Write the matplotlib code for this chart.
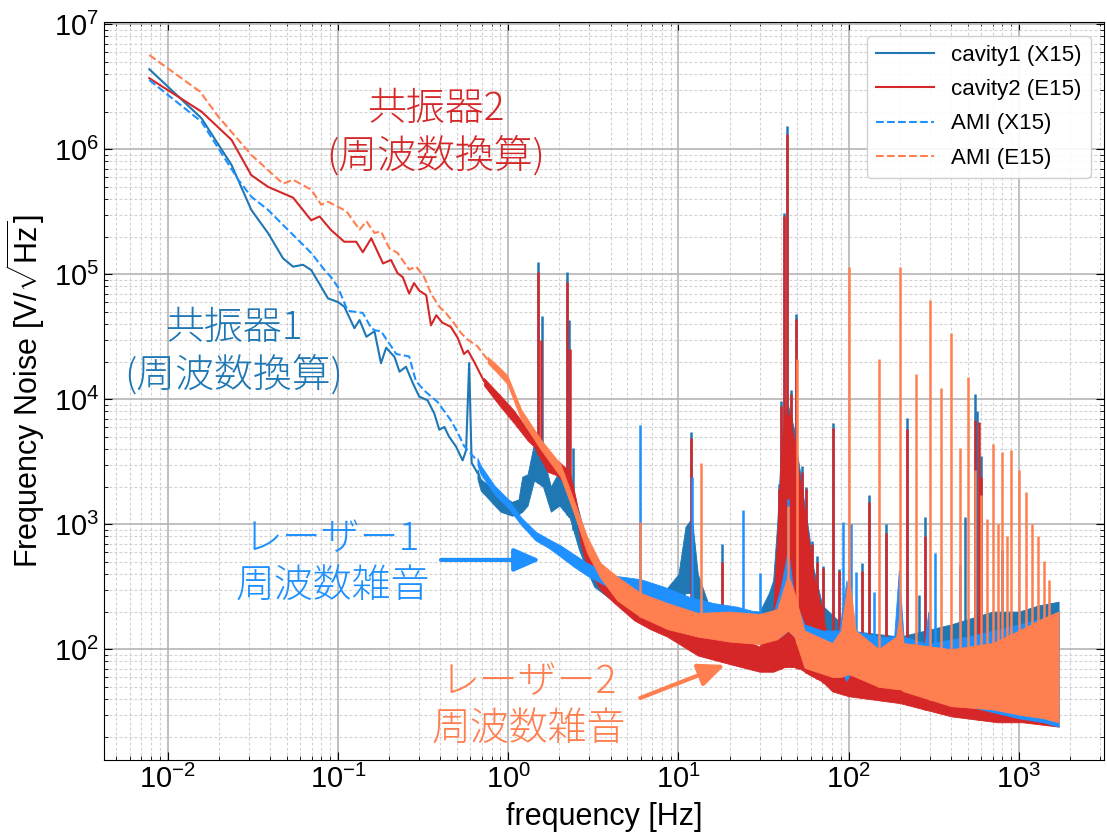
import numpy as np
import matplotlib.pyplot as plt

plt.rcParams['font.family'] = ['Liberation Sans', 'DejaVu Sans']
plt.rcParams['mathtext.fontset'] = 'custom'
plt.rcParams['mathtext.rm'] = 'Liberation Sans'
plt.rcParams['mathtext.it'] = 'Liberation Sans:italic'
plt.rcParams['mathtext.bf'] = 'Liberation Sans:bold'
JP = ['Noto Sans CJK JP', 'DejaVu Sans']

# --- cavity1 (X15) ---
c1_f_line = [0.0078, 0.0158, 0.0237, 0.031, 0.0389, 0.0476, 0.0545, 0.0624, 0.0697, 0.0875,
             0.1, 0.109, 0.125, 0.134, 0.147, 0.164, 0.179, 0.192, 0.215, 0.23, 0.251, 0.275,
             0.30, 0.336, 0.368, 0.394, 0.422, 0.45, 0.493, 0.54, 0.566, 0.59, 0.61, 0.66]
c1_v_line = [4.37e6, 1.77e6, 7.5e5, 3.27e5, 2.13e5, 1.34e5, 1.15e5, 1.19e5, 1.08e5, 6.4e4,
             6.0e4, 5.5e4, 3.7e4, 4.3e4, 3.16e4, 3.5e4, 1.94e4, 2.58e4, 2.18e4, 1.66e4, 1.82e4, 1.35e4,
             1.05e4, 9.8e3, 7.7e3, 5.7e3, 6.0e3, 5.0e3, 4.2e3, 3.24e3, 3.9e3, 1.95e4, 3.1e3, 2.57e3]
c1_f_band = [0.66, 0.69, 0.9, 1.05, 1.15, 1.21, 1.3, 1.42, 1.6, 1.78, 2.0, 2.3, 2.6, 2.9, 3.2, 4.0,
             6.0, 8.0, 10, 11, 12, 13, 15, 20, 30, 34, 36, 38, 40, 42, 44, 46, 48, 50, 52, 55, 58,
             62, 70, 100, 200, 400, 700, 1000, 1300, 1710]
c1_lo = [2290, 1860, 1260, 1170, 1200, 1260, 1410, 2240, 2000, 1260, 1410, 1120, 631, 427, 316, 251,
         200, 182, 200, 282, 282, 200, 158, 141, 126, 112, 112, 112, 112, 112, 112, 112, 112, 112,
         100, 100, 100, 89, 79, 71, 56, 45, 40, 35, 32, 28]
c1_hi = [2750, 2290, 1740, 1510, 1580, 2400, 2510, 4470, 3550, 2000, 2690, 2240, 1260, 708, 447, 355,
         302, 275, 398, 955, 1120, 398, 229, 209, 200, 282, 355, 1000, 3980, 7940, 8910, 7080, 5620,
         3550, 2510, 1410, 891, 447, 224, 141, 126, 158, 200, 200, 224, 240]
c1_f_peak = [1.505, 1.57, 2.22, 2.27, 2.41, 11.3, 11.8, 18.1, 38.8, 39.8, 41.7, 43.6, 46.0, 49.2,
             51.0, 53.0, 56.5, 61.0, 65.0, 71.0, 80.6, 88.0, 120, 132, 166, 220, 260, 280, 485,
             555, 570, 600, 800]
c1_v_peak = [1.26e5, 4.6e4, 1.05e5, 4.3e4, 4.1e3, 9.0e2, 5.5e3, 7.0e2, 2.1e3, 9.6e3, 3.1e5, 1.53e6,
             1.18e4, 4.8e4, 2.2e3, 2.9e3, 2.0e3, 7.4e2, 5.6e2, 4.6e2, 6.4e3, 4.4e2, 4.9e2, 1.7e3,
             1.0e3, 7.1e3, 2.7e2, 1.15e3, 1.15e3, 1.1e4, 8.1e3, 3.5e3, 6.2e2]

# --- cavity2 (E15) ---
c2_f_line = [0.0078, 0.0158, 0.0237, 0.031, 0.0389, 0.0545, 0.0697, 0.078, 0.091, 0.109, 0.128,
             0.14, 0.157, 0.184, 0.205, 0.224, 0.24, 0.262, 0.28, 0.30, 0.33, 0.352, 0.378, 0.41,
             0.46, 0.505, 0.55, 0.58, 0.63, 0.72]
c2_v_line = [3.7e6, 2.0e6, 1.19e6, 6.2e5, 5.0e5, 4.1e5, 2.7e5, 2.9e5, 2.26e5, 1.82e5, 1.82e5,
             1.5e5, 1.94e5, 1.22e5, 1.3e5, 1.02e5, 9.5e4, 7.0e4, 8.5e4, 7.4e4, 6.8e4, 3.9e4, 4.7e4,
             4.1e4, 3.8e4, 3.1e4, 2.3e4, 2.45e4, 2.0e4, 1.4e4]
c2_f_band = [0.72, 0.9, 1.08, 1.3, 1.42, 1.7, 1.95, 2.3, 2.5, 2.66, 2.9, 3.5, 4.2, 5.5, 6.8, 8.6,
             13, 20, 30, 36, 38, 40, 42, 44, 46, 48, 50, 52, 55, 58, 62, 70, 80, 100, 200, 400,
             750, 1050, 1710]
c2_lo = [12900, 8710, 6460, 4680, 4170, 2630, 2450, 1910, 1260, 708, 457, 295, 234, 170, 145, 126,
         89, 76, 66, 66, 68, 70, 72, 72, 72, 72, 70, 70, 66, 63, 60, 55, 46, 42, 37, 29, 26, 26, 24]
c2_hi = [14800, 10700, 8130, 5750, 4900, 3550, 3240, 2630, 1580, 1000, 661, 468, 339, 263, 209, 182,
         151, 132, 105, 200, 794, 3160, 7080, 7940, 6310, 4470, 3160, 2000, 1260, 794, 398, 200, 79,
         65, 54, 45, 35, 32, 30]
c2_f_peak = [1.505, 1.55, 2.22, 2.3, 11.8, 18.1, 38.8, 39.8, 41.7, 43.6, 46.0, 49.2, 51.0, 53.0,
             56.5, 61.0, 65.0, 71.0, 80.6, 88.0, 120, 132, 166, 220, 280, 555, 580, 600]
c2_v_peak = [1.05e5, 3.0e4, 8.7e4, 2.5e4, 4.9e3, 5.0e2, 1.9e3, 8.9e3, 2.9e5, 1.33e6, 1.1e4, 4.4e4,
             2.0e3, 2.6e3, 1.9e3, 7.0e2, 5.0e2, 4.5e2, 5.9e3, 4.2e2, 4.2e2, 1.5e3, 8.5e2, 5.8e3,
             8.0e2, 6.8e3, 6.6e3, 2.4e3]

# --- AMI (X15) ---
ax15_f_line = [0.0078, 0.0158, 0.026, 0.031, 0.0389, 0.0476, 0.0697, 0.0835, 0.091, 0.1, 0.114,
               0.14, 0.157, 0.166, 0.179, 0.2, 0.22, 0.262, 0.287, 0.322, 0.385, 0.46, 0.505,
               0.552, 0.66]
ax15_v_line = [3.58e6, 1.66e6, 5.7e5, 4.17e5, 3.27e5, 2.48e5, 1.48e5, 1.08e5, 9.5e4, 7.9e4, 5.1e4,
               4.9e4, 3.7e4, 3.55e4, 3.5e4, 2.8e4, 2.3e4, 2.2e4, 1.4e4, 1.17e4, 9.5e3, 6.8e3, 5.4e3,
               4.2e3, 3.2e3]
ax15_f_band = [0.66, 0.69, 0.83, 1.0, 1.2, 1.45, 1.73, 2.03, 2.43, 2.9, 4.1, 6.0, 8.2, 11.5, 16,
               22, 30, 36, 40, 44, 48, 55, 70, 88, 97, 107, 150, 185, 197, 210, 280, 293, 305,
               500, 1000, 1400, 1710]
ax15_lo = [2950, 2510, 1740, 1350, 977, 741, 646, 550, 457, 389, 302, 234, 219, 195, 170, 151, 135,
           126, 126, 141, 126, 89, 79, 71, 56, 71, 63, 52, 48, 52, 45, 40, 42, 35, 28, 26, 24]
ax15_hi = [3390, 2950, 2040, 1580, 1120, 871, 759, 676, 575, 490, 389, 363, 316, 263, 234, 219, 195,
           191, 316, 631, 251, 158, 141, 141, 355, 141, 126, 126, 427, 126, 112, 200, 112, 126, 158,
           178, 200]
ax15_f_peak = [5.97, 12.0, 23.9, 30.0, 44.0, 93, 103, 111, 141, 322, 448]
ax15_v_peak = [6.2e3, 2.4e3, 1.3e3, 4.1e2, 1.6e3, 1.05e3, 1.0e3, 4.15e2, 2.85e2, 5.9e2, 4.7e2]

# --- AMI (E15) ---
ae15_f_line = [0.0078, 0.0155, 0.0198, 0.031, 0.0476, 0.0545, 0.0698, 0.0798, 0.0875, 0.112,
               0.134, 0.147, 0.164, 0.179, 0.2, 0.224, 0.262, 0.288, 0.321, 0.352, 0.394, 0.43,
               0.48, 0.527, 0.578, 0.66, 0.757]
ae15_v_line = [5.68e6, 2.89e6, 1.83e6, 9.0e5, 5.3e5, 5.7e5, 4.74e5, 3.6e5, 3.8e5, 3.2e5,
               2.27e5, 2.65e5, 2.14e5, 2.2e5, 1.62e5, 1.48e5, 1.09e5, 1.15e5, 9.5e4, 7.0e4, 5.5e4,
               4.9e4, 4.07e4, 3.4e4, 3.0e4, 2.65e4, 2.07e4]
ae15_f_band = [0.757, 0.865, 0.99, 1.19, 1.55, 2.03, 2.43, 2.91, 3.48, 4.38, 5.97, 8.6, 13, 20, 30,
               38, 44, 48, 55, 80, 90, 100, 110, 150, 190, 200, 210, 400, 700, 1000, 1400, 1710]
ae15_lo = [19500, 16200, 13200, 6920, 3980, 2400, 1230, 589, 372, 245, 182, 145, 126, 115, 110, 120,
           141, 126, 71, 60, 60, 63, 60, 50, 48, 48, 46, 35, 33, 30, 28, 26]
ae15_hi = [21900, 18600, 15500, 8320, 4790, 3020, 1550, 794, 490, 380, 282, 234, 195, 200, 191, 209,
           398, 282, 141, 112, 141, 398, 141, 100, 126, 200, 112, 100, 112, 141, 178, 200]
ae15_f_peak = [5.97, 13.5, 44.0, 49.5, 100, 150, 200, 250, 300, 350, 400, 450, 500, 550, 600, 650,
               700, 750, 800, 850, 900, 1000, 1100, 1200, 1300, 1400, 1500]
ae15_v_peak = [1.05e3, 3.1e3, 1.4e3, 2.1e4, 1.15e5, 2.1e4, 1.15e5, 1.6e4, 6.2e4, 1.23e4, 3.4e4,
               4.1e3, 1.5e4, 2.7e3, 1.7e3, 1.1e3, 4.4e3, 1.0e3, 3.8e3, 8.0e2, 3.9e3, 2.7e3, 1.8e3,
               1.0e3, 8.0e2, 5.1e2, 3.6e2]


def draw_spectrum(ax, f_line, v_line, f_band, lo, hi, f_pk, v_pk, color, ls, label, z):
    # dense noise region as a filled band, lines as spikes on top of it
    ax.fill_between(f_band, lo, hi, facecolor=color, edgecolor=color, lw=0.6, zorder=z)
    base = 10 ** np.interp(np.log10(f_pk), np.log10(f_band), np.log10(lo))
    ax.vlines(f_pk, base, v_pk, color=color, lw=1.8, zorder=z)
    ax.plot(f_line, v_line, color=color, ls=ls, lw=1.5, label=label, zorder=z)


fig = plt.figure(figsize=(11.07, 8.36), dpi=100)
ax = fig.add_axes([0.094, 0.091, 0.9033, 0.8822])
ax.set_xscale('log')
ax.set_yscale('log')

draw_spectrum(ax, c1_f_line, c1_v_line, c1_f_band, c1_lo, c1_hi, c1_f_peak, c1_v_peak,
              'tab:blue', '-', 'cavity1 (X15)', 2)
draw_spectrum(ax, c2_f_line, c2_v_line, c2_f_band, c2_lo, c2_hi, c2_f_peak, c2_v_peak,
              'tab:red', '-', 'cavity2 (E15)', 3)
draw_spectrum(ax, ax15_f_line, ax15_v_line, ax15_f_band, ax15_lo, ax15_hi, ax15_f_peak, ax15_v_peak,
              'dodgerblue', '--', 'AMI (X15)', 4)
draw_spectrum(ax, ae15_f_line, ae15_v_line, ae15_f_band, ae15_lo, ae15_hi, ae15_f_peak, ae15_v_peak,
              'coral', '--', 'AMI (E15)', 5)

ax.set_xlim(0.00423, 3160)
ax.set_ylim(13.0, 1.035e7)
ax.set_axisbelow(True)
ax.grid(True, which='major', color='#b4b4b4', lw=1.2)
ax.grid(True, which='minor', color='#d0d0d0', ls=(0, (2.5, 2)), lw=0.8)
ax.tick_params(which='both', direction='in', top=True, right=True, labelsize=21)
ax.tick_params(which='major', length=6)
ax.tick_params(which='minor', length=3)
ax.set_xlabel('frequency [Hz]', fontsize=22, labelpad=6)
ax.set_ylabel(r'Frequency Noise [V/$\sqrt{\mathrm{Hz}}$]', fontsize=22, labelpad=5)

ax.legend(loc='upper right', fontsize=16, labelspacing=0.6, handlelength=2.6,
          borderaxespad=0.6, framealpha=0.9)

note = dict(fontsize=28, family=JP, fontweight='light', ha='center', va='center',
            linespacing=1.25, zorder=6)
ax.text(0.377, 1.35e6, '共振器2\n(周波数換算)', color='tab:red', **note)
ax.text(0.0244, 2.39e4, '共振器1\n(周波数換算)', color='tab:blue', **note)
ax.text(0.0926, 490, 'レーザー1\n周波数雑音', color='dodgerblue', **note)
ax.text(1.32, 35, 'レーザー2\n周波数雑音', color='coral', **note)

ax.annotate('', xy=(1.55, 518), xytext=(0.403, 518), zorder=6,
            arrowprops=dict(arrowstyle='-|>,head_length=0.8,head_width=0.35', color='dodgerblue',
                            lw=3, mutation_scale=20, shrinkA=0, shrinkB=0))
ax.annotate('', xy=(18.8, 74.8), xytext=(5.97, 40.7), zorder=6,
            arrowprops=dict(arrowstyle='-|>,head_length=0.8,head_width=0.35', color='coral',
                            lw=3, mutation_scale=20, shrinkA=0, shrinkB=0))

fig.savefig('out.png', dpi=100)
